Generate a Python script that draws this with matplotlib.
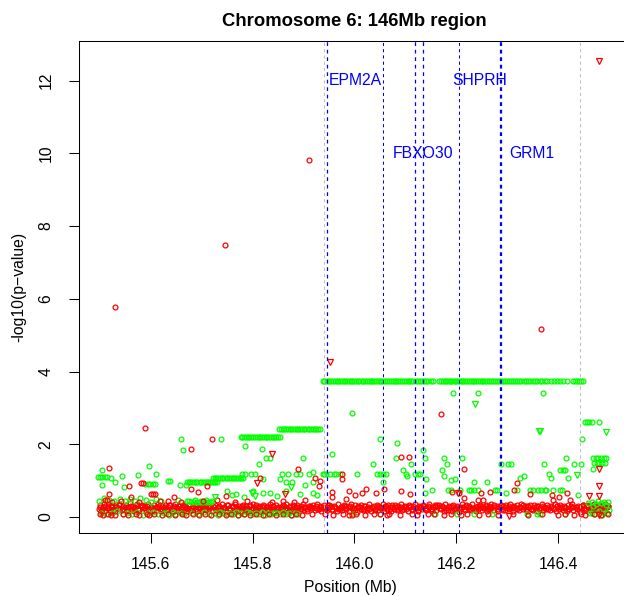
import matplotlib.pyplot as plt
import numpy as np

plt.rcParams['font.family'] = ['Liberation Sans', 'DejaVu Sans']

# --- Data: position (Mb), -log10(p) ---
# dense red band near the bottom
red_band = [
    (145.498, 0.21), (145.501, 0.33), (145.503, 0.16), (145.506, 0.28), (145.509, 0.36), (145.511, 0.19), (145.514, 0.25), (145.517, 0.31),
    (145.520, 0.14), (145.522, 0.27), (145.525, 0.34), (145.528, 0.22), (145.530, 0.17), (145.533, 0.30), (145.536, 0.24), (145.538, 0.35),
    (145.543, 0.18), (145.546, 0.29), (145.548, 0.23), (145.551, 0.32), (145.554, 0.15), (145.556, 0.26), (145.559, 0.37), (145.562, 0.20),
    (145.565, 0.31), (145.567, 0.16), (145.570, 0.27), (145.573, 0.35), (145.575, 0.22), (145.578, 0.18), (145.581, 0.29), (145.583, 0.33),
    (145.587, 0.24), (145.590, 0.14), (145.592, 0.30), (145.595, 0.36), (145.598, 0.21), (145.600, 0.26), (145.603, 0.17), (145.606, 0.32),
    (145.610, 0.28), (145.612, 0.19), (145.615, 0.35), (145.618, 0.23), (145.620, 0.15), (145.623, 0.30), (145.626, 0.25), (145.628, 0.34),
    (145.632, 0.18), (145.635, 0.27), (145.637, 0.32), (145.640, 0.21), (145.643, 0.16), (145.645, 0.29), (145.648, 0.36), (145.651, 0.24),
    (145.654, 0.20), (145.656, 0.31), (145.659, 0.14), (145.662, 0.26), (145.664, 0.34), (145.667, 0.22), (145.670, 0.28), (145.672, 0.17),
    (145.676, 0.33), (145.679, 0.25), (145.681, 0.19), (145.684, 0.30), (145.687, 0.36), (145.689, 0.23), (145.692, 0.15), (145.695, 0.27),
    (145.699, 0.32), (145.701, 0.20), (145.704, 0.26), (145.707, 0.35), (145.709, 0.18), (145.712, 0.29), (145.715, 0.23), (145.717, 0.31),
    (145.721, 0.16), (145.724, 0.27), (145.726, 0.34), (145.729, 0.21), (145.732, 0.25), (145.734, 0.30), (145.737, 0.17), (145.740, 0.36),
    (145.743, 0.22), (145.745, 0.28), (145.748, 0.14), (145.751, 0.33), (145.753, 0.24), (145.756, 0.19), (145.759, 0.30), (145.761, 0.26),
    (145.766, 0.35), (145.769, 0.18), (145.771, 0.23), (145.774, 0.31), (145.777, 0.27), (145.779, 0.15), (145.782, 0.34), (145.785, 0.21),
    (145.788, 0.29), (145.790, 0.25), (145.793, 0.17), (145.796, 0.33), (145.798, 0.22), (145.801, 0.36), (145.804, 0.19), (145.806, 0.28),
    (145.810, 0.24), (145.813, 0.31), (145.815, 0.16), (145.818, 0.27), (145.821, 0.34), (145.823, 0.20), (145.826, 0.26), (145.829, 0.30),
    (145.833, 0.18), (145.835, 0.35), (145.838, 0.23), (145.841, 0.29), (145.843, 0.14), (145.846, 0.32), (145.849, 0.25), (145.851, 0.21),
    (145.855, 0.28), (145.858, 0.17), (145.860, 0.33), (145.863, 0.24), (145.866, 0.36), (145.868, 0.19), (145.871, 0.27), (145.874, 0.31),
    (145.877, 0.22), (145.879, 0.15), (145.882, 0.30), (145.885, 0.26), (145.887, 0.34), (145.890, 0.18), (145.893, 0.23), (145.895, 0.29),
    (145.899, 0.35), (145.902, 0.20), (145.904, 0.26), (145.907, 0.16), (145.910, 0.31), (145.912, 0.24), (145.915, 0.28), (145.918, 0.33),
    (145.922, 0.19), (145.924, 0.25), (145.927, 0.36), (145.930, 0.21), (145.932, 0.30), (145.935, 0.15), (145.938, 0.27), (145.940, 0.32),
    (145.944, 0.23), (145.947, 0.18), (145.949, 0.34), (145.952, 0.26), (145.955, 0.29), (145.957, 0.20), (145.960, 0.31), (145.963, 0.24),
    (145.966, 0.16), (145.968, 0.35), (145.971, 0.22), (145.974, 0.28), (145.976, 0.19), (145.979, 0.33), (145.982, 0.25), (145.984, 0.30),
    (145.989, 0.17), (145.992, 0.27), (145.994, 0.36), (145.997, 0.21), (146.000, 0.24), (146.002, 0.32), (146.005, 0.14), (146.008, 0.29),
    (146.011, 0.26), (146.013, 0.34), (146.016, 0.18), (146.019, 0.23), (146.021, 0.31), (146.024, 0.20), (146.027, 0.28), (146.029, 0.35),
    (146.033, 0.16), (146.036, 0.25), (146.038, 0.30), (146.041, 0.22), (146.044, 0.33), (146.046, 0.19), (146.049, 0.27), (146.052, 0.24),
    (146.056, 0.36), (146.058, 0.17), (146.061, 0.29), (146.064, 0.21), (146.066, 0.32), (146.069, 0.26), (146.072, 0.15), (146.074, 0.34),
    (146.078, 0.23), (146.081, 0.28), (146.083, 0.19), (146.086, 0.31), (146.089, 0.25), (146.091, 0.35), (146.094, 0.18), (146.097, 0.27),
    (146.100, 0.30), (146.102, 0.22), (146.105, 0.16), (146.108, 0.33), (146.110, 0.26), (146.113, 0.20), (146.116, 0.29), (146.118, 0.36),
    (146.122, 0.24), (146.125, 0.17), (146.127, 0.31), (146.130, 0.27), (146.133, 0.21), (146.135, 0.34), (146.138, 0.25), (146.141, 0.19),
    (146.145, 0.30), (146.147, 0.35), (146.150, 0.23), (146.153, 0.15), (146.155, 0.28), (146.158, 0.32), (146.161, 0.18), (146.163, 0.26),
    (146.167, 0.33), (146.170, 0.22), (146.172, 0.29), (146.175, 0.16), (146.178, 0.36), (146.180, 0.24), (146.183, 0.20), (146.186, 0.31),
    (146.189, 0.27), (146.191, 0.17), (146.194, 0.34), (146.197, 0.25), (146.199, 0.21), (146.202, 0.30), (146.205, 0.14), (146.207, 0.28),
    (146.212, 0.35), (146.215, 0.23), (146.217, 0.19), (146.220, 0.32), (146.223, 0.26), (146.225, 0.29), (146.228, 0.18), (146.231, 0.36),
    (146.234, 0.22), (146.236, 0.27), (146.239, 0.16), (146.242, 0.31), (146.244, 0.24), (146.247, 0.34), (146.250, 0.20), (146.252, 0.28),
    (146.256, 0.25), (146.259, 0.33), (146.261, 0.17), (146.264, 0.30), (146.267, 0.22), (146.269, 0.36), (146.272, 0.19), (146.275, 0.26),
    (146.279, 0.31), (146.281, 0.15), (146.284, 0.27), (146.287, 0.34), (146.289, 0.23), (146.292, 0.29), (146.295, 0.18), (146.297, 0.32),
    (146.301, 0.25), (146.304, 0.21), (146.306, 0.35), (146.309, 0.28), (146.312, 0.16), (146.314, 0.30), (146.317, 0.24), (146.320, 0.33),
    (146.323, 0.19), (146.325, 0.27), (146.328, 0.36), (146.331, 0.22), (146.333, 0.26), (146.336, 0.31), (146.339, 0.17), (146.341, 0.29),
    (146.345, 0.34), (146.348, 0.23), (146.350, 0.20), (146.353, 0.32), (146.356, 0.27), (146.358, 0.15), (146.361, 0.30), (146.364, 0.25),
    (146.368, 0.35), (146.370, 0.18), (146.373, 0.28), (146.376, 0.22), (146.378, 0.33), (146.381, 0.26), (146.384, 0.19), (146.386, 0.31),
    (146.390, 0.24), (146.393, 0.36), (146.395, 0.16), (146.398, 0.29), (146.401, 0.21), (146.403, 0.34), (146.406, 0.27), (146.409, 0.20),
    (146.412, 0.30), (146.414, 0.25), (146.417, 0.17), (146.420, 0.33), (146.422, 0.23), (146.425, 0.28), (146.428, 0.35), (146.430, 0.19),
    (146.435, 0.26), (146.438, 0.31), (146.440, 0.22), (146.443, 0.14), (146.446, 0.29), (146.448, 0.34), (146.451, 0.24), (146.454, 0.20),
    (146.457, 0.32), (146.459, 0.27), (146.462, 0.18), (146.465, 0.30), (146.467, 0.25), (146.470, 0.36), (146.473, 0.21), (146.475, 0.28),
    (146.479, 0.16), (146.482, 0.33), (146.484, 0.24), (146.487, 0.29), (146.490, 0.20), (146.492, 0.35), (146.495, 0.26), (146.498, 0.31),
    # second pass through the core of the band
    (145.500, 0.27), (145.505, 0.21), (145.511, 0.31), (145.516, 0.24), (145.522, 0.30), (145.527, 0.20), (145.533, 0.26), (145.538, 0.32),
    (145.545, 0.22), (145.550, 0.28), (145.556, 0.19), (145.561, 0.29), (145.567, 0.25), (145.572, 0.32), (145.578, 0.21), (145.583, 0.27),
    (145.589, 0.31), (145.594, 0.23), (145.600, 0.28), (145.605, 0.20), (145.612, 0.26), (145.617, 0.30), (145.623, 0.22), (145.628, 0.27),
    (145.634, 0.21), (145.639, 0.33), (145.645, 0.25), (145.650, 0.28), (145.656, 0.29), (145.661, 0.22), (145.667, 0.31), (145.672, 0.24),
    (145.678, 0.20), (145.683, 0.27), (145.689, 0.32), (145.694, 0.21), (145.701, 0.28), (145.706, 0.23), (145.712, 0.30), (145.717, 0.26),
    (145.723, 0.31), (145.728, 0.20), (145.734, 0.27), (145.739, 0.23), (145.745, 0.25), (145.750, 0.32), (145.756, 0.21), (145.761, 0.29),
    (145.768, 0.27), (145.773, 0.22), (145.779, 0.30), (145.784, 0.25), (145.790, 0.21), (145.795, 0.29), (145.801, 0.24), (145.806, 0.32),
    (145.812, 0.28), (145.817, 0.20), (145.823, 0.31), (145.828, 0.23), (145.835, 0.26), (145.840, 0.30), (145.846, 0.21), (145.851, 0.27),
    (145.857, 0.22), (145.862, 0.29), (145.868, 0.25), (145.873, 0.20), (145.879, 0.32), (145.884, 0.24), (145.890, 0.27), (145.895, 0.21),
    (145.901, 0.28), (145.906, 0.22), (145.912, 0.31), (145.917, 0.25), (145.924, 0.30), (145.929, 0.21), (145.935, 0.26), (145.940, 0.23),
    (145.946, 0.27), (145.951, 0.32), (145.957, 0.22), (145.962, 0.28), (145.968, 0.21), (145.973, 0.26), (145.979, 0.30), (145.984, 0.23),
    (145.991, 0.31), (145.996, 0.24), (146.002, 0.20), (146.007, 0.27), (146.013, 0.22), (146.018, 0.29), (146.024, 0.25), (146.029, 0.21),
    (146.035, 0.28), (146.040, 0.20), (146.046, 0.31), (146.051, 0.26), (146.058, 0.24), (146.063, 0.30), (146.069, 0.22), (146.074, 0.27),
    (146.080, 0.32), (146.085, 0.21), (146.091, 0.26), (146.096, 0.23), (146.102, 0.27), (146.107, 0.31), (146.113, 0.22), (146.118, 0.25),
    (146.124, 0.20), (146.129, 0.28), (146.135, 0.30), (146.140, 0.23), (146.147, 0.26), (146.152, 0.21), (146.158, 0.29), (146.163, 0.32),
    (146.169, 0.24), (146.174, 0.27), (146.180, 0.20), (146.185, 0.28), (146.191, 0.31), (146.196, 0.23), (146.202, 0.26), (146.207, 0.21),
    (146.214, 0.28), (146.219, 0.30), (146.225, 0.22), (146.230, 0.25), (146.236, 0.20), (146.241, 0.27), (146.247, 0.31), (146.252, 0.24),
    (146.258, 0.29), (146.263, 0.21), (146.269, 0.26), (146.274, 0.32), (146.281, 0.23), (146.286, 0.28), (146.292, 0.20), (146.297, 0.27),
    (146.303, 0.30), (146.308, 0.24), (146.314, 0.27), (146.319, 0.21), (146.325, 0.26), (146.330, 0.32), (146.336, 0.22), (146.341, 0.28),
    (146.347, 0.21), (146.352, 0.27), (146.358, 0.30), (146.363, 0.23), (146.370, 0.29), (146.375, 0.25), (146.381, 0.21), (146.386, 0.27),
    (146.392, 0.22), (146.397, 0.31), (146.403, 0.26), (146.408, 0.24), (146.414, 0.28), (146.419, 0.21), (146.425, 0.30), (146.430, 0.26),
    (146.437, 0.23), (146.442, 0.27), (146.448, 0.32), (146.453, 0.21), (146.459, 0.29), (146.464, 0.24), (146.470, 0.26), (146.475, 0.31),
    (146.481, 0.22), (146.486, 0.28), (146.492, 0.25), (146.497, 0.30),
]

# red circles outside the band
red_points = [
    (145.530, 5.78), (145.589, 2.45), (145.746, 7.47), (145.911, 9.81), (146.366, 5.16), (146.170, 2.83),
    (145.720, 2.14), (145.680, 1.87), (145.519, 1.35), (145.889, 1.32), (145.814, 1.07), (145.558, 0.86),
    (145.581, 0.93), (145.585, 0.93), (145.600, 0.63), (145.605, 0.63), (145.609, 0.63), (145.679, 0.77),
    (145.693, 0.69), (145.711, 0.85), (145.930, 0.85), (145.923, 1.07), (145.748, 0.58), (145.646, 0.55),
    (145.561, 0.55), (145.519, 0.63), (145.510, 0.47), (145.514, 0.47), (145.635, 0.44), (146.092, 1.66),
    (146.107, 1.66), (145.975, 1.17), (145.975, 1.04), (146.215, 1.32), (146.058, 0.76), (146.023, 0.78),
    (146.015, 0.65), (146.001, 0.60), (145.989, 0.71), (145.984, 0.49), (146.042, 0.65), (146.092, 0.70),
    (146.110, 0.62), (146.191, 0.68), (146.205, 0.65), (146.215, 0.53), (146.242, 0.47), (146.253, 0.47),
    (146.249, 0.65), (146.266, 0.68), (146.319, 0.93), (146.314, 0.74), (146.344, 0.63), (146.388, 0.60),
    (146.401, 0.56), (146.417, 0.65), (146.389, 0.46), (146.424, 0.47), (145.956, 0.55), (145.956, 0.68),
    (145.932, 0.99),
    (145.525, 0.42), (145.541, 0.45), (145.577, 0.40), (145.618, 0.44), (145.659, 0.41), (145.703, 0.43),
    (145.730, 0.46), (145.766, 0.40), (145.790, 0.44), (145.838, 0.42), (145.860, 0.45), (145.882, 0.41),
    (145.903, 0.47),
    (145.501, 0.08), (145.507, 0.05), (145.516, 0.09), (145.523, 0.06), (145.531, 0.04), (145.545, 0.08),
    (145.556, 0.06), (145.571, 0.09), (145.578, 0.05), (145.592, 0.07), (145.597, 0.04), (145.607, 0.08),
    (145.622, 0.06), (145.635, 0.09), (145.648, 0.05), (145.661, 0.07), (145.669, 0.04), (145.683, 0.08),
    (145.694, 0.06), (145.707, 0.09), (145.719, 0.05), (145.735, 0.07), (145.748, 0.04), (145.758, 0.08),
    (145.771, 0.06), (145.784, 0.09), (145.795, 0.05), (145.806, 0.07), (145.820, 0.04), (145.833, 0.08),
    (145.847, 0.06), (145.859, 0.09), (145.875, 0.05), (145.886, 0.07), (145.898, 0.04), (145.916, 0.08),
    (145.942, 0.07), (145.958, 0.05), (145.977, 0.09), (145.990, 0.06), (145.995, 0.04), (146.003, 0.08),
    (146.020, 0.05), (146.038, 0.07), (146.051, 0.09), (146.064, 0.04), (146.068, 0.07), (146.090, 0.06),
    (146.114, 0.08), (146.122, 0.05), (146.144, 0.07), (146.157, 0.09), (146.176, 0.04), (146.190, 0.08),
    (146.210, 0.06), (146.221, 0.07), (146.244, 0.05), (146.262, 0.09), (146.281, 0.06), (146.312, 0.08),
    (146.341, 0.05), (146.369, 0.07), (146.399, 0.04), (146.413, 0.08), (146.431, 0.06), (146.444, 0.09),
    (146.452, 0.05), (146.470, 0.07), (146.484, 0.04), (146.498, 0.08),
]

red_triangles = [
    (145.953, 4.27), (146.480, 12.55), (145.838, 1.73), (145.809, 0.93), (145.863, 0.63), (146.203, 0.67),
    (146.480, 1.32), (146.480, 0.85), (146.461, 0.57), (146.480, 0.57), (146.303, 0.03), (146.480, 0.05),
]

# green plateaus (runs of markers at one level)
green_x_375 = [145.938, 145.941, 145.944, 145.948, 145.951, 145.955, 145.958, 145.961, 145.965, 145.968,
               145.972, 145.975, 145.979, 145.982, 145.986, 145.989, 145.993, 145.996, 146.000, 146.003,
               146.007, 146.010, 146.014, 146.017, 146.021, 146.024, 146.028, 146.032, 146.035, 146.039,
               146.042, 146.046, 146.050, 146.053, 146.057, 146.060, 146.064, 146.068, 146.071, 146.075,
               146.079, 146.082, 146.086, 146.090, 146.093, 146.097, 146.101, 146.105, 146.108, 146.112,
               146.116, 146.120, 146.124, 146.128, 146.132, 146.136, 146.140, 146.145, 146.150, 146.155,
               146.167, 146.170, 146.173, 146.177, 146.180, 146.183, 146.187, 146.190, 146.193, 146.197,
               146.200, 146.204, 146.207, 146.211, 146.214, 146.218, 146.221, 146.225, 146.228, 146.232,
               146.235, 146.239, 146.242, 146.246, 146.250, 146.253, 146.257, 146.261, 146.264, 146.268,
               146.272, 146.276, 146.279, 146.283, 146.287, 146.291, 146.295, 146.299, 146.303, 146.307,
               146.311, 146.315, 146.319, 146.323, 146.328, 146.332, 146.336, 146.341, 146.345, 146.350,
               146.354, 146.359, 146.364, 146.369, 146.374, 146.379, 146.385, 146.391, 146.397, 146.403,
               146.410, 146.418,
               146.429, 146.433, 146.437, 146.441, 146.445, 146.448]
green_x_241 = [145.852, 145.855, 145.859, 145.862, 145.866, 145.869, 145.873, 145.876, 145.880, 145.883,
               145.887, 145.890, 145.894, 145.897, 145.901, 145.904, 145.908, 145.911, 145.915, 145.918,
               145.922, 145.925, 145.929, 145.932]
green_x_221 = [145.777, 145.780, 145.784, 145.787, 145.791, 145.794, 145.798, 145.801, 145.805, 145.808,
               145.812, 145.815, 145.819, 145.822, 145.826, 145.829, 145.833, 145.836, 145.840, 145.843,
               145.847, 145.850, 145.853]
green_x_097 = [145.671, 145.675, 145.678, 145.682, 145.685, 145.689, 145.692, 145.696, 145.699, 145.703,
               145.706, 145.710, 145.713, 145.717, 145.720, 145.724, 145.727, 145.730]
green_x_106 = [145.722, 145.726, 145.729, 145.733, 145.736, 145.740, 145.743, 145.747, 145.750, 145.754,
               145.757, 145.761, 145.764, 145.768, 145.771, 145.775, 145.778, 145.781]

# other green circles
green_points = [
    (145.995, 2.86), (146.193, 3.40), (146.242, 3.40), (146.370, 3.40), (146.051, 2.14), (146.084, 2.03),
    (145.956, 1.72), (146.135, 1.84), (146.138, 1.61), (146.082, 1.61), (146.037, 1.45), (146.095, 1.29),
    (146.101, 1.17), (146.104, 1.13), (146.111, 1.45), (146.171, 1.29), (146.175, 1.13), (146.175, 1.61),
    (146.181, 1.45), (146.212, 1.61), (146.189, 1.02), (146.198, 1.04), (146.235, 0.96), (146.260, 0.96),
    (146.287, 1.45), (146.301, 1.45), (146.307, 1.45), (146.325, 1.06), (146.333, 1.13), (146.373, 1.45),
    (146.382, 1.17), (146.386, 1.06), (146.416, 1.61), (146.432, 1.47), (146.444, 1.47), (146.420, 1.06),
    (146.447, 2.14), (146.452, 2.62), (146.456, 2.62), (146.460, 2.62), (146.466, 2.62), (146.480, 2.62),
    (146.469, 1.63), (146.474, 1.63), (146.479, 1.63), (146.484, 1.63), (146.489, 1.63), (146.494, 1.63),
    (146.471, 1.49), (146.476, 1.49), (146.481, 1.49), (146.486, 1.49), (146.491, 1.49), (146.468, 1.31),
    (146.439, 0.60), (146.404, 1.29), (146.409, 1.29), (146.414, 1.29),
    (145.939, 1.18), (145.945, 1.18), (145.953, 1.18), (145.959, 1.18), (145.964, 1.18), (145.972, 1.18),
    (146.005, 1.18), (146.044, 1.18), (146.050, 1.18), (146.056, 1.18), (146.062, 1.18), (146.119, 1.18),
    (146.124, 1.18), (146.128, 1.18), (146.140, 1.04), (146.057, 0.97),
    (146.152, 0.74), (146.184, 0.74), (146.189, 0.74), (146.208, 0.74), (146.225, 0.74), (146.229, 0.74),
    (146.234, 0.74), (146.243, 0.74), (146.276, 0.74), (146.280, 0.74), (146.320, 0.74), (146.345, 0.74),
    (146.351, 0.74), (146.361, 0.74), (146.366, 0.74), (146.374, 0.74), (146.377, 0.74), (146.390, 0.74),
    (146.404, 0.74), (146.408, 0.74), (146.297, 0.65), (146.139, 0.65),
    (145.998, 0.07), (146.050, 0.07), (146.158, 0.07), (146.201, 0.07), (146.235, 0.07), (146.271, 0.07),
    (146.338, 0.07), (146.358, 0.07), (146.364, 0.07), (146.413, 0.07),
    (145.659, 2.14), (145.663, 1.84), (145.738, 2.14), (145.786, 1.95), (145.818, 1.87), (145.827, 1.62),
    (145.835, 1.62), (145.812, 1.46), (145.899, 1.62), (145.596, 1.40), (145.576, 1.15), (145.611, 1.18),
    (145.544, 1.13), (145.504, 1.29), (145.505, 0.88), (145.523, 1.06), (145.530, 0.97), (145.548, 0.82),
    (145.635, 1.00), (145.639, 1.00), (145.658, 0.88), (145.669, 0.88), (145.780, 1.18), (145.785, 1.18),
    (145.797, 1.18), (145.805, 1.18), (145.821, 1.04), (145.853, 1.04), (145.858, 1.18), (145.870, 1.18),
    (145.886, 1.18), (145.894, 1.18), (145.866, 0.97), (145.878, 0.97), (145.910, 1.18), (145.918, 1.23),
    (145.903, 0.88), (145.919, 0.97), (145.918, 0.65), (145.927, 0.60), (145.941, 1.18),
    (145.497, 1.11), (145.501, 1.11), (145.505, 1.11), (145.510, 1.11), (145.514, 1.11),
    (145.589, 0.90), (145.594, 0.90), (145.599, 0.90), (145.604, 0.90), (145.608, 0.90),
    (145.750, 0.70), (145.760, 0.60), (145.768, 0.64), (145.784, 0.55), (145.800, 0.72), (145.821, 0.65),
    (145.835, 0.65), (145.848, 0.58), (145.866, 0.72), (145.893, 0.62),
    # low cloud on the left
    (145.499, 0.45), (145.503, 0.12), (145.508, 0.52), (145.512, 0.08), (145.519, 0.47), (145.524, 0.10),
    (145.529, 0.43), (145.534, 0.15), (145.540, 0.50), (145.545, 0.07), (145.549, 0.45), (145.554, 0.12),
    (145.559, 0.48), (145.564, 0.09), (145.569, 0.44), (145.574, 0.13), (145.579, 0.51), (145.585, 0.06),
    (145.590, 0.46), (145.594, 0.11), (145.600, 0.42), (145.605, 0.14), (145.610, 0.49), (145.615, 0.08),
    (145.621, 0.45), (145.626, 0.12), (145.631, 0.10), (145.637, 0.06), (145.643, 0.13), (145.648, 0.09),
    (145.653, 0.47), (145.659, 0.11), (145.665, 0.07), (145.671, 0.45), (145.676, 0.43), (145.681, 0.12),
    (145.687, 0.46), (145.693, 0.09), (145.698, 0.44), (145.704, 0.13), (145.709, 0.47), (145.715, 0.08),
    (145.720, 0.45), (145.726, 0.11), (145.732, 0.06), (145.737, 0.14), (145.743, 0.10), (145.749, 0.07),
    (145.755, 0.12), (145.761, 0.09), (145.767, 0.13), (145.772, 0.06), (145.778, 0.11), (145.784, 0.08),
    (145.790, 0.14), (145.796, 0.10), (145.801, 0.07), (145.807, 0.12), (145.813, 0.09), (145.819, 0.13),
    (145.825, 0.06), (145.831, 0.11), (145.836, 0.08), (145.842, 0.12), (145.848, 0.10), (145.854, 0.07),
    (145.860, 0.13), (145.866, 0.09), (145.872, 0.11), (145.877, 0.06), (145.883, 0.12), (145.889, 0.08),
    (145.679, 0.42), (145.685, 0.42), (145.691, 0.42), (145.697, 0.42), (145.702, 0.42), (145.708, 0.42),
    (145.714, 0.42), (145.719, 0.42),
    # low cloud on the right
    (146.458, 0.38), (146.462, 0.12), (146.466, 0.41), (146.469, 0.30), (146.472, 0.08), (146.475, 0.36),
    (146.478, 0.44), (146.481, 0.15), (146.484, 0.39), (146.487, 0.06), (146.490, 0.42), (146.493, 0.33),
    (146.495, 0.10), (146.498, 0.40), (146.500, 0.18), (146.466, 0.10), (146.489, 0.12),
]

green_triangles = [
    (145.875, 0.82), (145.726, 0.56), (145.799, 0.67), (145.804, 0.58), (146.236, 3.10),
    (146.362, 2.36), (146.365, 2.36), (146.494, 2.35), (146.436, 1.15),
]

# dashed gene boundary lines
line_x = [145.9413, 145.9458, 146.0567, 146.1189, 146.1352, 146.2059, 146.2858, 146.2868, 146.4438]
line_colors = ['#BEBEBE', 'blue', 'blue', 'blue', 'blue', 'blue', 'blue', 'blue', '#BEBEBE']
line_widths = [0.75, 0.9, 0.75, 0.9, 0.9, 0.75, 0.9, 0.9, 0.75]

gene_names = ['EPM2A', 'FBXO30', 'SHPRH', 'GRM1']
gene_x = [146.001, 146.135, 146.245, 146.349]
gene_y = [12, 10, 12, 10]

# --- Figure ---
fig = plt.figure(figsize=(6.24, 5.96), dpi=100)
ax = fig.add_axes([0.12708, 0.10520, 0.88173, 0.82651])

circle = dict(linestyle='none', marker='o', markersize=3.5, markerfacecolor='none', markeredgewidth=0.9)
tri = dict(linestyle='none', marker='v', markersize=4.0, markerfacecolor='none', markeredgewidth=0.9)

rb = np.array(red_band)
ax.plot(rb[:, 0], rb[:, 1], markeredgecolor='#FF0000', **circle)

gx = np.concatenate([green_x_375, green_x_241, green_x_221, green_x_097, green_x_106])
gy = np.concatenate([np.full(len(green_x_375), 3.75), np.full(len(green_x_241), 2.41),
                     np.full(len(green_x_221), 2.21), np.full(len(green_x_097), 0.97),
                     np.full(len(green_x_106), 1.06)])
gp = np.array(green_points)
ax.plot(np.concatenate([gx, gp[:, 0]]), np.concatenate([gy, gp[:, 1]]),
        markeredgecolor='#00FF00', **circle)

rp = np.array(red_points)
ax.plot(rp[:, 0], rp[:, 1], markeredgecolor='#FF0000', **circle)

gt = np.array(green_triangles)
ax.plot(gt[:, 0], gt[:, 1], markeredgecolor='#00FF00', **tri)
rt = np.array(red_triangles)
ax.plot(rt[:, 0], rt[:, 1], markeredgecolor='#FF0000', **tri)

for x, c, w in zip(line_x, line_colors, line_widths):
    ax.axvline(x, color=c, linestyle=(0, (3, 3)), linewidth=w)

for name, x, y in zip(gene_names, gene_x, gene_y):
    ax.text(x, y, name, color='blue', ha='center', va='center', fontsize=11.3)

ax.set_xlim(145.46, 146.54)
ax.set_ylim(-0.45, 13.1)

ax.set_xticks([145.6, 145.8, 146.0, 146.2, 146.4])
ax.set_xticklabels(['145.6', '145.8', '146.0', '146.2', '146.4'], fontsize=11.3)
ax.set_yticks([0, 2, 4, 6, 8, 10, 12])
ax.set_yticklabels(['0', '2', '4', '6', '8', '10', '12'], fontsize=11.3, rotation=90, va='center')
ax.tick_params(axis='both', direction='out', length=7.2, width=0.75, color='black')
ax.tick_params(axis='x', pad=9.8)
ax.tick_params(axis='y', pad=11.2)

for side in ['left', 'bottom', 'top']:
    ax.spines[side].set_linewidth(0.75)
ax.spines['right'].set_visible(False)

ax.set_title('Chromosome 6: 146Mb region', fontsize=13.3, fontweight='bold', pad=10.5)
ax.set_xlabel('Position (Mb)', fontsize=11.3)
ax.xaxis.set_label_coords(0.4929, -0.0950)
ax.set_ylabel('-log10(p\u2212value)', fontsize=11.3)
ax.yaxis.set_label_coords(-0.096, 0.5)

fig.savefig('out.png', dpi=100)
